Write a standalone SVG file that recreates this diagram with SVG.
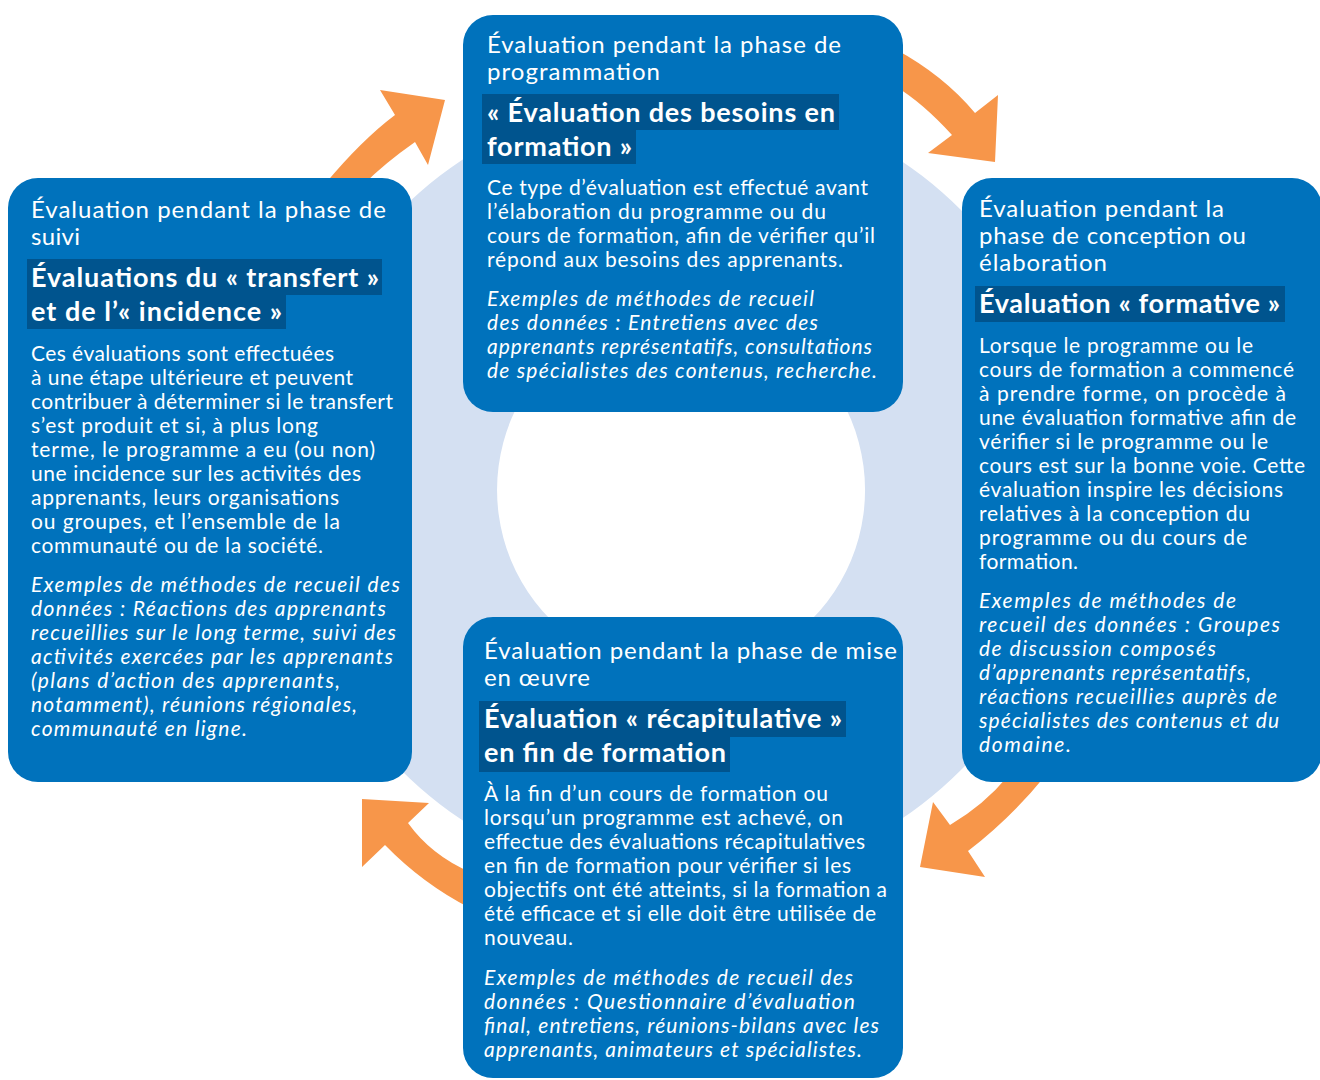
<svg xmlns="http://www.w3.org/2000/svg" width="1320" height="1080" viewBox="0 0 1320 1080">
  <style>
    .box { fill: #0072bc; }
    .hl { fill: #00548e; }
    .ring { fill: #d4e0f2; fill-rule: evenodd; }
    .arrow { fill: #f7964a; }
    text { fill: #ffffff; font-family: Lato, "Open Sans", "Liberation Sans", sans-serif; }
    .h { font-size: 24px; font-weight: 400; }
    .b { font-size: 27px; font-weight: 700; }
    .t { font-size: 21px; font-weight: 400; }
    .i { font-size: 21px; font-weight: 400; font-style: italic; }
  </style>

  <rect width="1320" height="1080" fill="#ffffff"/>

  <!-- background ring -->
  <path class="ring" d="M 681 94 A 396 396 0 1 1 680.9 94 Z M 681 306 A 184 184 0 1 0 681.1 306 Z"/>

  <!-- cycle arrows -->
  <g id="connectors">
    <path class="arrow" d="M 325 184 Q 361.7 140 395 115 L 380 90 L 445 100 L 428 165 L 415 142 Q 385 163 364 184 Z"/>
    <path class="arrow" d="M 895 49 Q 943.6 75.3 975 113 L 998 95 L 995 162 L 928 153 L 952 135 Q 922.8 102.9 895 86 Z"/>
    <path class="arrow" d="M 1045 776 Q 1011 818 968 851 L 985 877 L 920 867 L 933 802 L 950 825 Q 984 805 1008 776 Z"/>
    <path class="arrow" d="M 470 872 Q 431 855 408 823 L 429 803 L 362 799 L 362 867 L 385 845 Q 423 884 470 908 Z"/>
  </g>

  <!-- programming phase -->
  <g id="node-programmation">
    <rect class="box" x="463" y="15" width="440" height="397" rx="30"/>
    <rect class="hl" x="482" y="94" width="357" height="36"/>
    <rect class="hl" x="482" y="130" width="154" height="34"/>
    <text class="h" x="487" y="53" textLength="354">Évaluation pendant la phase de</text>
    <text class="h" x="487" y="80" textLength="173">programmation</text>
    <text class="b" x="487" y="122" textLength="348">« Évaluation des besoins en</text>
    <text class="b" x="487" y="156" textLength="145">formation »</text>
    <text class="t" x="487" y="195" textLength="381">Ce type d’évaluation est effectué avant</text>
    <text class="t" x="487" y="219" textLength="339">l’élaboration du programme ou du</text>
    <text class="t" x="487" y="243" textLength="388">cours de formation, afin de vérifier qu’il</text>
    <text class="t" x="487" y="267" textLength="356">répond aux besoins des apprenants.</text>
    <text class="i" x="487" y="306" textLength="327">Exemples de méthodes de recueil</text>
    <text class="i" x="487" y="330" textLength="331">des données : Entretiens avec des</text>
    <text class="i" x="487" y="354" textLength="385">apprenants représentatifs, consultations</text>
    <text class="i" x="487" y="378" textLength="390">de spécialistes des contenus, recherche.</text>
  </g>

  <!-- follow-up phase -->
  <g id="node-suivi">
    <rect class="box" x="8" y="178" width="404" height="604" rx="30"/>
    <rect class="hl" x="27" y="259" width="355" height="36"/>
    <rect class="hl" x="27" y="295" width="259" height="34"/>
    <text class="h" x="31" y="218" textLength="355">Évaluation pendant la phase de</text>
    <text class="h" x="31" y="245" textLength="49">suivi</text>
    <text class="b" x="31" y="287" textLength="348">Évaluations du « transfert »</text>
    <text class="b" x="31" y="321" textLength="251">et de l’« incidence »</text>
    <text class="t" x="31" y="361" textLength="303">Ces évaluations sont effectuées</text>
    <text class="t" x="31" y="385" textLength="322">à une étape ultérieure et peuvent</text>
    <text class="t" x="31" y="409" textLength="362">contribuer à déterminer si le transfert</text>
    <text class="t" x="31" y="433" textLength="287">s’est produit et si, à plus long</text>
    <text class="t" x="31" y="457" textLength="344">terme, le programme a eu (ou non)</text>
    <text class="t" x="31" y="481" textLength="330">une incidence sur les activités des</text>
    <text class="t" x="31" y="505" textLength="308">apprenants, leurs organisations</text>
    <text class="t" x="31" y="529" textLength="309">ou groupes, et l’ensemble de la</text>
    <text class="t" x="31" y="553" textLength="292">communauté ou de la société.</text>
    <text class="i" x="31" y="592" textLength="369">Exemples de méthodes de recueil des</text>
    <text class="i" x="31" y="616" textLength="355">données : Réactions des apprenants</text>
    <text class="i" x="31" y="640" textLength="365">recueillies sur le long terme, suivi des</text>
    <text class="i" x="31" y="664" textLength="362">activités exercées par les apprenants</text>
    <text class="i" x="31" y="688" textLength="309">(plans d’action des apprenants,</text>
    <text class="i" x="31" y="712" textLength="326">notamment), réunions régionales,</text>
    <text class="i" x="31" y="736" textLength="216">communauté en ligne.</text>
  </g>

  <!-- design phase -->
  <g id="node-conception">
    <rect class="box" x="962" y="178" width="360" height="604" rx="30"/>
    <rect class="hl" x="975" y="286" width="310" height="36"/>
    <text class="h" x="979" y="217" textLength="245">Évaluation pendant la</text>
    <text class="h" x="979" y="244" textLength="267">phase de conception ou</text>
    <text class="h" x="979" y="271" textLength="128">élaboration</text>
    <text class="b" x="979" y="313" textLength="301">Évaluation « formative »</text>
    <text class="t" x="979" y="353" textLength="274">Lorsque le programme ou le</text>
    <text class="t" x="979" y="377" textLength="315">cours de formation a commencé</text>
    <text class="t" x="979" y="401" textLength="307">à prendre forme, on procède à</text>
    <text class="t" x="979" y="425" textLength="317">une évaluation formative afin de</text>
    <text class="t" x="979" y="449" textLength="289">vérifier si le programme ou le</text>
    <text class="t" x="979" y="473" textLength="326">cours est sur la bonne voie. Cette</text>
    <text class="t" x="979" y="497" textLength="304">évaluation inspire les décisions</text>
    <text class="t" x="979" y="521" textLength="271">relatives à la conception du</text>
    <text class="t" x="979" y="545" textLength="268">programme ou du cours de</text>
    <text class="t" x="979" y="569" textLength="99">formation.</text>
    <text class="i" x="979" y="608" textLength="257">Exemples de méthodes de</text>
    <text class="i" x="979" y="632" textLength="301">recueil des données : Groupes</text>
    <text class="i" x="979" y="656" textLength="237">de discussion composés</text>
    <text class="i" x="979" y="680" textLength="272">d’apprenants représentatifs,</text>
    <text class="i" x="979" y="704" textLength="298">réactions recueillies auprès de</text>
    <text class="i" x="979" y="728" textLength="300">spécialistes des contenus et du</text>
    <text class="i" x="979" y="752" textLength="92">domaine.</text>
  </g>

  <!-- implementation phase -->
  <g id="node-mise-en-oeuvre">
    <rect class="box" x="463" y="617" width="440" height="461" rx="30"/>
    <rect class="hl" x="479" y="701" width="367" height="36"/>
    <rect class="hl" x="479" y="737" width="251" height="35"/>
    <text class="h" x="484" y="659" textLength="413">Évaluation pendant la phase de mise</text>
    <text class="h" x="484" y="686" textLength="106">en œuvre</text>
    <text class="b" x="484" y="728" textLength="358">Évaluation « récapitulative »</text>
    <text class="b" x="484" y="762" textLength="242">en fin de formation</text>
    <text class="t" x="484" y="801" textLength="344">À la fin d’un cours de formation ou</text>
    <text class="t" x="484" y="825" textLength="359">lorsqu’un programme est achevé, on</text>
    <text class="t" x="484" y="849" textLength="381">effectue des évaluations récapitulatives</text>
    <text class="t" x="484" y="873" textLength="367">en fin de formation pour vérifier si les</text>
    <text class="t" x="484" y="897" textLength="403">objectifs ont été atteints, si la formation a</text>
    <text class="t" x="484" y="921" textLength="392">été efficace et si elle doit être utilisée de</text>
    <text class="t" x="484" y="945" textLength="89">nouveau.</text>
    <text class="i" x="484" y="985" textLength="369">Exemples de méthodes de recueil des</text>
    <text class="i" x="484" y="1009" textLength="371">données : Questionnaire d’évaluation</text>
    <text class="i" x="484" y="1033" textLength="395">final, entretiens, réunions-bilans avec les</text>
    <text class="i" x="484" y="1057" textLength="378">apprenants, animateurs et spécialistes.</text>
  </g>
</svg>
